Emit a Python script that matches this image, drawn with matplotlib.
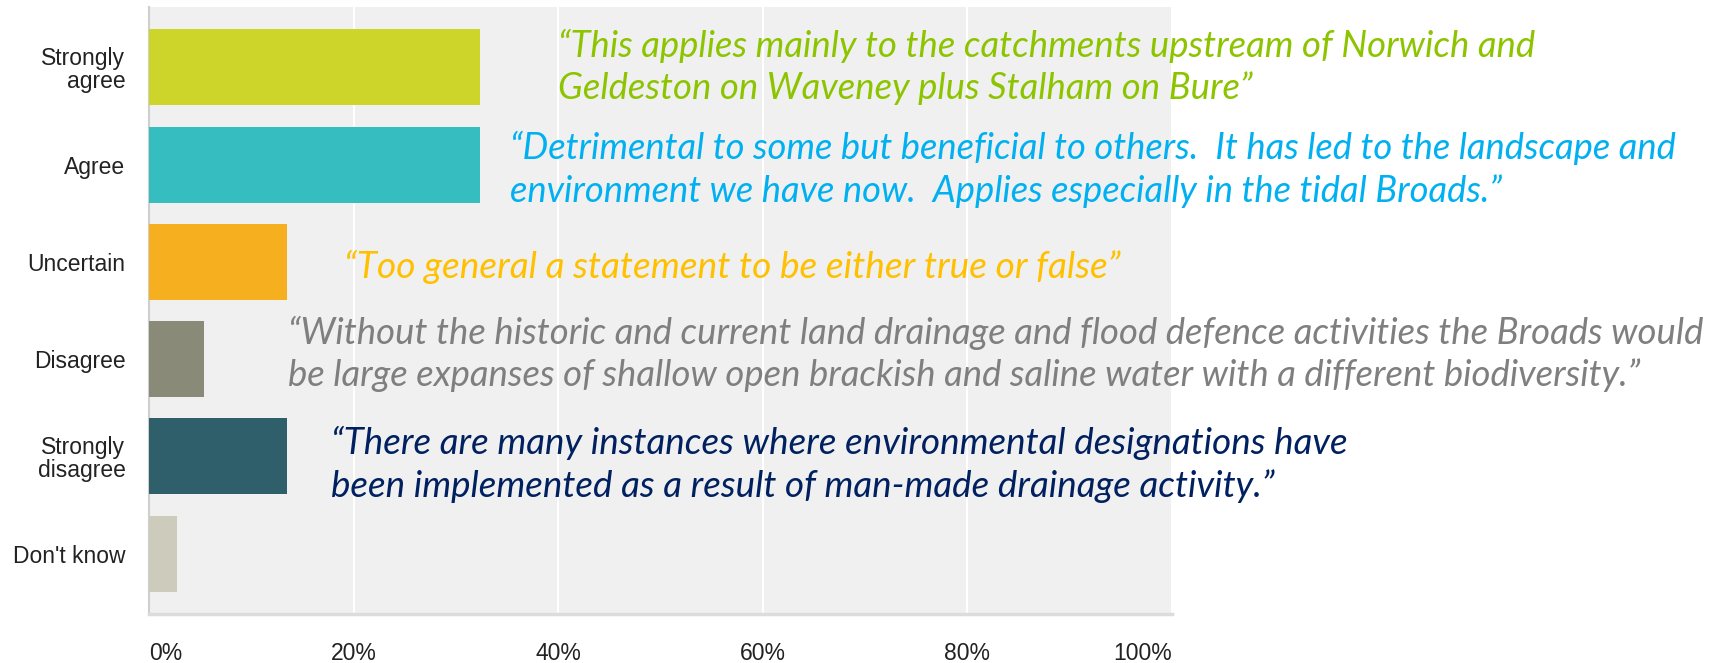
import matplotlib.pyplot as plt

# survey answers (share of respondents, %)
categories = ["Strongly\nagree", "Agree", "Uncertain", "Disagree", "Strongly\ndisagree", "Don't know"]
values = [32.4, 32.4, 13.5, 5.4, 13.5, 2.7]
bar_colors = ["#CED52A", "#35BDBF", "#F6AF1E", "#8A8A78", "#305F6C", "#CDCBBB"]
xtick_values = [0, 20, 40, 60, 80, 100]
xtick_labels = ["0%", "20%", "40%", "60%", "80%", "100%"]

# respondent comments shown next to the bars
quotes = [
    ["\u201cThis applies mainly to the catchments upstream of Norwich and",
     "Geldeston on Waveney plus Stalham on Bure\u201d"],
    ["\u201cDetrimental to some but beneficial to others.  It has led to the landscape and",
     "environment we have now.  Applies especially in the tidal Broads.\u201d"],
    ["\u201cToo general a statement to be either true or false\u201d"],
    ["\u201cWithout the historic and current land drainage and flood defence activities the Broads would",
     "be large expanses of shallow open brackish and saline water with a different biodiversity.\u201d"],
    ["\u201cThere are many instances where environmental designations have",
     "been implemented as a result of man-made drainage activity.\u201d"],
]
quote_colors = ["#8DC400", "#00B0F0", "#FFC000", "#7F7F7F", "#002060"]

# layout of the comments in image pixels (left x, line centres, first-line width)
W, H = 1721, 663
quote_x = [558, 510, 344, 288, 331]
quote_y = [[46, 88], [148, 191], [267], [333, 375], [443, 486]]
quote_w = [976, 1169, 778, 1415, 1017]

fig = plt.figure(figsize=(W / 100, H / 100), dpi=100)
ax = fig.add_axes([149 / W, 1 - 614 / H, (1172 - 149) / W, (614 - 7) / H])

ax.set_facecolor("#F0F0F0")
ypos = range(len(categories))
ax.barh(ypos, values, height=0.78, color=bar_colors, zorder=3)

ax.set_xlim(0, 100)
ax.set_ylim(len(categories) - 0.38, -0.62)
ax.set_xticks(xtick_values)
ax.set_xticklabels(xtick_labels)
ax.set_yticks(list(ypos))
ax.set_yticklabels(categories, linespacing=1.0)

ax.grid(axis="x", color="white", linewidth=1.5, zorder=1)
ax.grid(axis="y", visible=False)
ax.tick_params(axis="both", length=0, labelsize=16.5, labelcolor="#222222")
ax.tick_params(axis="x", pad=20)
ax.tick_params(axis="y", pad=17)
for lab in ax.get_xticklabels() + ax.get_yticklabels():
    lab.set_fontfamily("Liberation Sans")
xl = ax.get_xticklabels()
xl[0].set_ha("left")
xl[-1].set_ha("right")

for side in ["top", "right"]:
    ax.spines[side].set_visible(False)
ax.spines["left"].set_color("#CFCFCF")
ax.spines["left"].set_linewidth(1.5)
ax.spines["bottom"].set_color("#DCDCDC")
ax.spines["bottom"].set_linewidth(2.5)

# comments, sized so the first line spans the width seen in the picture
fig.canvas.draw()
renderer = fig.canvas.get_renderer()
for lines, col, x0, ys, wt in zip(quotes, quote_colors, quote_x, quote_y, quote_w):
    texts = []
    for line, y in zip(lines, ys):
        t = fig.text(x0 / W, 1 - y / H, line, color=col, fontsize=24,
                     family=["Lato", "DejaVu Sans"], style="italic",
                     ha="left", va="center")
        texts.append(t)
    w = texts[0].get_window_extent(renderer).width
    for t in texts:
        t.set_fontsize(24 * wt / w)

fig.savefig("out.png", dpi=100)
